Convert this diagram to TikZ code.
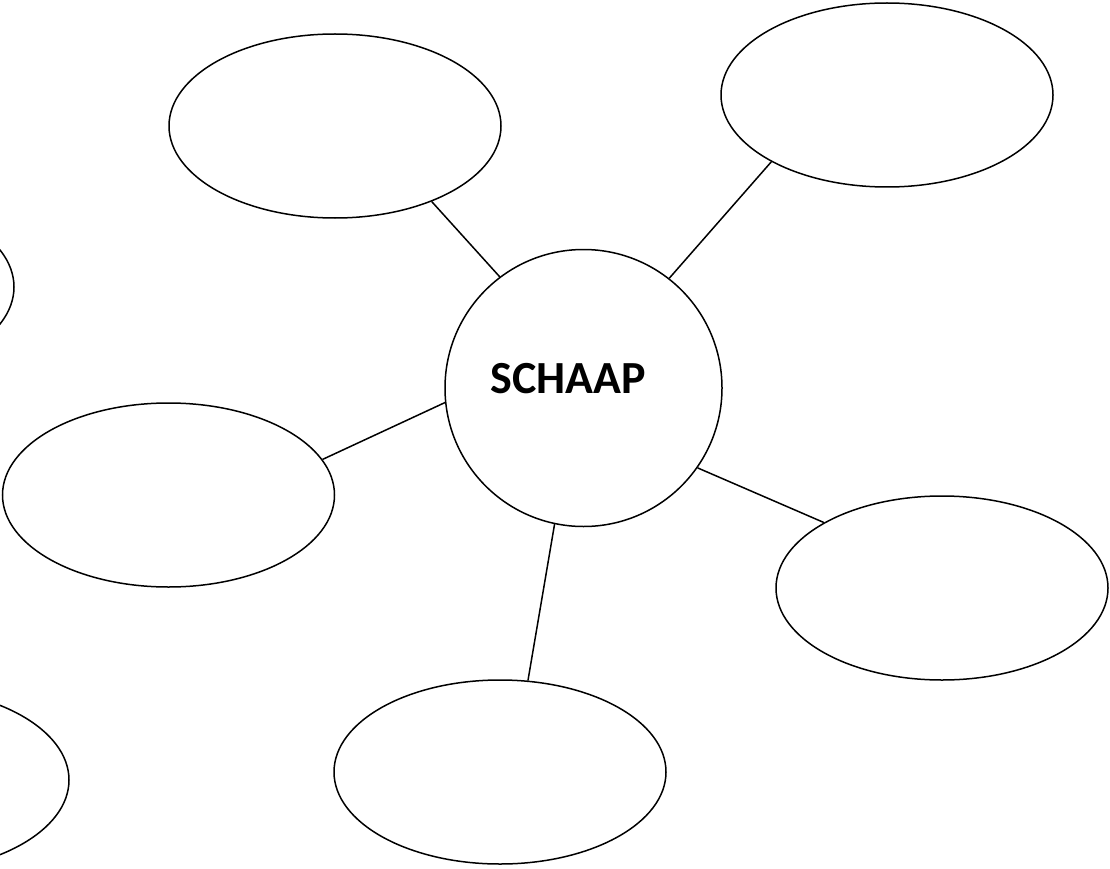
\documentclass[tikz,border=0pt]{standalone}
\usepackage{fontspec}
\setmainfont{Carlito}
\usetikzlibrary{shapes.geometric}

\begin{document}
\begin{tikzpicture}[x=1pt, y=-1pt, line width=1.5pt,
		bubble/.style={draw, ellipse, minimum width=332pt, minimum height=184pt, inner sep=0pt},
		hub/.style={draw, circle, minimum size=277pt, inner sep=0pt},
		hubtext/.style={font=\bfseries\fontsize{46}{55}\selectfont, inner sep=0pt}]
			%%%%% START %%%%%
			
			\clip (0, 0) rectangle (1110, 869);
			
			\node[hub] (schaap) at (583.5, 388) {};
			\node[hubtext] (naam) at (568, 379) {SCHAAP};
			
			\node[bubble] (topleft) at (335, 126) {};
			\node[bubble] (topright) at (887, 95) {};
			\node[bubble] (farleft) at (-152, 287) {};
			\node[bubble] (left) at (168.5, 495) {};
			\node[bubble] (right) at (942, 588) {};
			\node[bubble] (bottom) at (500, 772) {};
			\node[bubble] (farbottom) at (-97, 780) {};
			
			\draw (topleft.-38.7) -- (schaap.127.8);
			\draw (topright.-150) -- (schaap.52.3);
			\draw (left.13.6) -- (schaap.186.2);
			\draw (schaap.-35) -- (right.151.4);
			\draw (schaap.258.2) -- (bottom.73.3);
			
			%%%%% END %%%%%
\end{tikzpicture}
\end{document}
